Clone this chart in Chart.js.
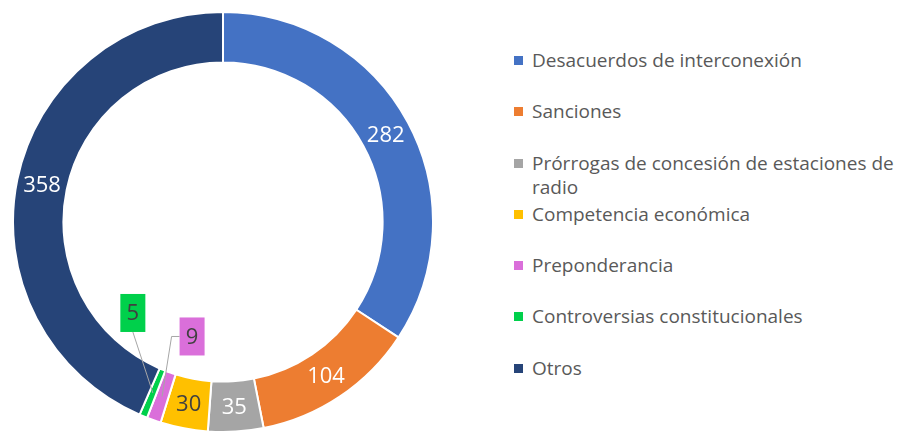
<!DOCTYPE html>
<html lang="es">
<head>
    <meta charset="UTF-8">
    <title>Asuntos por tipo</title>
    <style>
        body {
            margin: 0;
            padding: 0;
            background: #fff;
            font-family: 'Open Sans', sans-serif;
        }
        #wrap {
            position: relative;
            width: 904px;
            height: 433px;
        }
        #chart-box {
            position: absolute;
            left: 12px;
            top: 11px;
            width: 422px;
            height: 422px;
        }
        #legend {
            position: absolute;
            left: 513px;
            top: 48px;
            width: 391px;
            list-style: none;
            margin: 0;
            padding: 0;
            color: #595959;
            font-size: 19px;
            line-height: 24px;
        }
        #legend li {
            position: relative;
            padding-left: 19px;
            height: 51.3px;
        }
        #legend li span.sw {
            position: absolute;
            left: 1px;
            top: 8px;
            width: 9px;
            height: 9px;
        }
    </style>
</head>
<body>
<div id="wrap">
    <div id="chart-box"><canvas id="donut"></canvas></div>
    <ul id="legend"></ul>
</div>

<script src="https://cdn.jsdelivr.net/npm/chart.js"></script>
<script>
    // valores
    var categorias = ['Desacuerdos de interconexión', 'Sanciones', 'Prórrogas de concesión de estaciones de radio',
        'Competencia económica', 'Preponderancia', 'Controversias constitucionales', 'Otros'];
    var valores = [282, 104, 35, 30, 9, 5, 358];
    var colores = ['#4472C4', '#ED7D31', '#A5A5A5', '#FFC000', '#DA6FDA', '#00D04B', '#264478'];
    var colorTexto = ['#fff', '#fff', '#fff', '#404040', '#404040', '#404040', '#fff'];

    // etiquetas con recuadro (desplazamiento desde el centro del arco)
    var llamadas = {
        4: { dx: 30, dy: -60, codo: true },
        5: { dx: -20, dy: -80, codo: false }
    };

    var etiquetas = {
        id: 'etiquetas',
        afterDatasetsDraw: function (chart) {
            var ctx = chart.ctx;
            var arcs = chart.getDatasetMeta(0).data;
            ctx.save();
            ctx.font = '22px "Open Sans", sans-serif';
            ctx.textAlign = 'center';
            ctx.textBaseline = 'middle';
            arcs.forEach(function (arc, i) {
                var p = arc.tooltipPosition();
                var c = llamadas[i];
                if (c) {
                    var bx = p.x + c.dx, by = p.y + c.dy;
                    var w = 25, h = 38;
                    ctx.strokeStyle = '#A6A6A6';
                    ctx.lineWidth = 1;
                    ctx.beginPath();
                    if (c.codo) {
                        ctx.moveTo(bx - w / 2, by);
                        ctx.lineTo(bx - w / 2 - 8, by);
                    } else {
                        ctx.moveTo(bx, by + h / 2);
                    }
                    ctx.lineTo(p.x, p.y);
                    ctx.stroke();
                    ctx.fillStyle = colores[i];
                    ctx.fillRect(bx - w / 2, by - h / 2, w, h);
                    ctx.fillStyle = colorTexto[i];
                    ctx.fillText(valores[i], bx, by + 1);
                } else {
                    ctx.fillStyle = colorTexto[i];
                    ctx.fillText(valores[i], p.x, p.y + 1);
                }
            });
            ctx.restore();
        }
    };

    new Chart(document.getElementById('donut'), {
        type: 'doughnut',
        data: {
            labels: categorias,
            datasets: [{
                data: valores,
                backgroundColor: colores,
                borderColor: '#fff',
                borderWidth: 2
            }]
        },
        options: {
            responsive: true,
            maintainAspectRatio: false,
            animation: false,
            cutout: '76%',
            layout: { padding: 0 },
            plugins: {
                legend: { display: false },
                tooltip: { enabled: false }
            }
        },
        plugins: [etiquetas]
    });

    // leyenda en html
    var ul = document.getElementById('legend');
    categorias.forEach(function (c, i) {
        var li = document.createElement('li');
        li.innerHTML = '<span class="sw" style="background:' + colores[i] + '"></span>' + c;
        ul.appendChild(li);
    });
</script>
</body>
</html>
